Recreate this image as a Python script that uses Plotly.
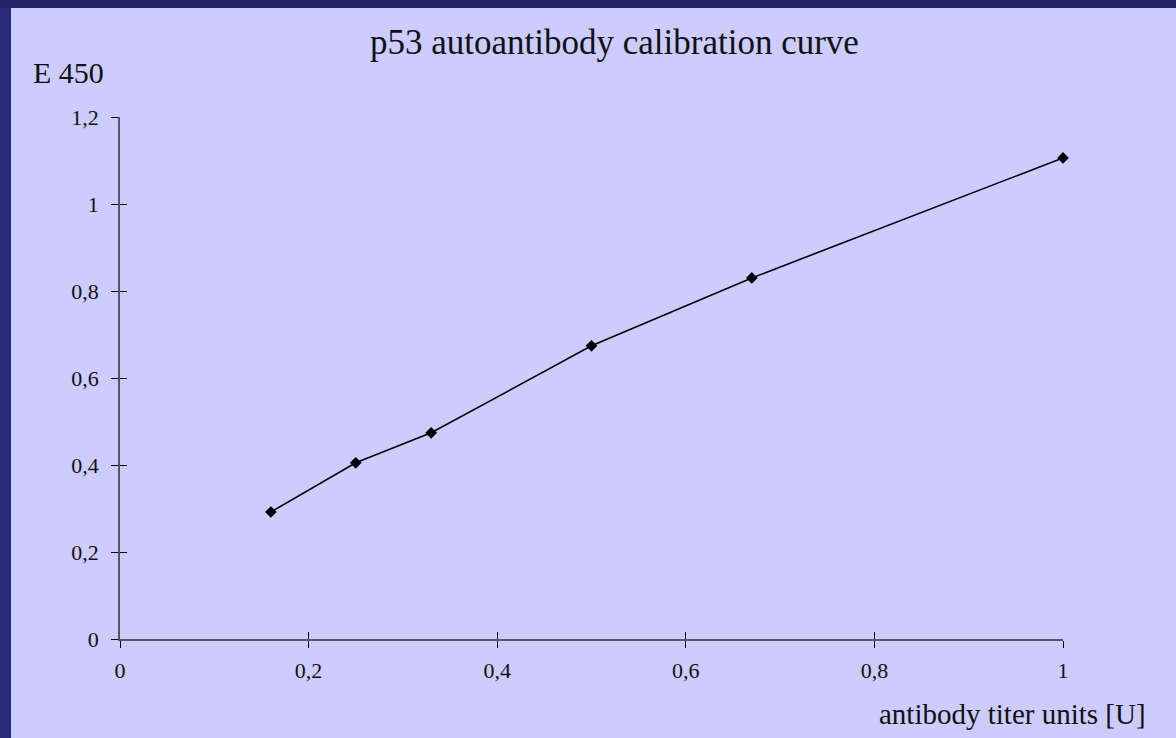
import plotly.graph_objects as go

# Data
titer_units = [0.16, 0.25, 0.33, 0.50, 0.67, 1.00]
e450 = [0.292, 0.405, 0.474, 0.674, 0.830, 1.106]

x_tickvals = [0, 0.2, 0.4, 0.6, 0.8, 1]
x_ticktext = ["0", "0,2", "0,4", "0,6", "0,8", "1"]
y_tickvals = [0, 0.2, 0.4, 0.6, 0.8, 1, 1.2]
y_ticktext = ["0", "0,2", "0,4", "0,6", "0,8", "1", "1,2"]

title_text = "p53 autoantibody calibration curve"
y_title = "E 450"
x_title = "antibody titer units [U]"

W, H = 1176, 738
L, R, T, B = 120, 113, 117, 99
pw, ph = W - L - R, H - T - B

def px_x(px):
    return (px - L) / pw

def px_y(py):
    return (H - B - py) / ph

FONT = "Liberation Serif, Times New Roman, serif"

fig = go.Figure()
fig.add_trace(go.Scatter(
    x=titer_units, y=e450, mode="lines+markers",
    line=dict(color="black", width=1.6),
    marker=dict(symbol="diamond", size=9, color="black"),
    showlegend=False, hoverinfo="x+y", cliponaxis=False,
))
# invisible trace for overlay axes (inner tick halves)
fig.add_trace(go.Scatter(
    x=[titer_units[0]], y=[e450[0]], xaxis="x2", yaxis="y2",
    mode="markers", marker=dict(opacity=0), showlegend=False, hoverinfo="skip",
))

axis_common = dict(showgrid=False, zeroline=False, tickcolor="black", ticklen=7,
                   tickwidth=1, tickfont=dict(family=FONT, size=22, color="#111111"))

fig.update_layout(
    width=W, height=H,
    margin=dict(l=L, r=R, t=T, b=B),
    paper_bgcolor="#CCCCFF", plot_bgcolor="#CCCCFF",
    font=dict(family=FONT, color="black"),
    xaxis=dict(range=[0, 1], tickvals=x_tickvals, ticktext=x_ticktext,
               ticks="outside", showline=True, linecolor="#555566", linewidth=1.5,
               ticklabelstandoff=4, **axis_common),
    yaxis=dict(range=[0, 1.2], tickvals=y_tickvals, ticktext=y_ticktext,
               ticks="outside", showline=True, linecolor="#555566", linewidth=1.5,
               ticklabelstandoff=8, **axis_common),
    xaxis2=dict(range=[0, 1], tickvals=x_tickvals, overlaying="x", anchor="y2",
                side="bottom", ticks="inside", showticklabels=False, showline=False,
                **axis_common),
    yaxis2=dict(range=[0, 1.2], tickvals=y_tickvals, overlaying="y", anchor="x2",
                side="left", ticks="inside", showticklabels=False, showline=False,
                **axis_common),
    shapes=[
        dict(type="rect", xref="paper", yref="paper", layer="below",
             x0=px_x(0), x1=px_x(W), y0=px_y(8), y1=px_y(0),
             fillcolor="#222266", line=dict(width=0)),
        dict(type="rect", xref="paper", yref="paper", layer="below",
             x0=px_x(0), x1=px_x(11), y0=px_y(H), y1=px_y(8),
             fillcolor="#2A2A7C", line=dict(width=0)),
    ],
    annotations=[
        dict(text=title_text, xref="paper", yref="paper", x=px_x(614), y=px_y(43),
             xanchor="center", yanchor="middle", showarrow=False,
             font=dict(family=FONT, size=35, color="#111111")),
        dict(text=y_title, xref="paper", yref="paper", x=px_x(31), y=px_y(73),
             xanchor="left", yanchor="middle", showarrow=False,
             font=dict(family=FONT, size=30, color="#111111")),
        dict(text=x_title, xref="paper", yref="paper", x=px_x(1148), y=px_y(714),
             xanchor="right", yanchor="middle", showarrow=False,
             font=dict(family=FONT, size=29, color="#111111")),
    ],
)

fig.write_html("out.html", config={"displayModeBar": False},
               post_script="document.body.style.margin='0';document.body.style.padding='0';")
